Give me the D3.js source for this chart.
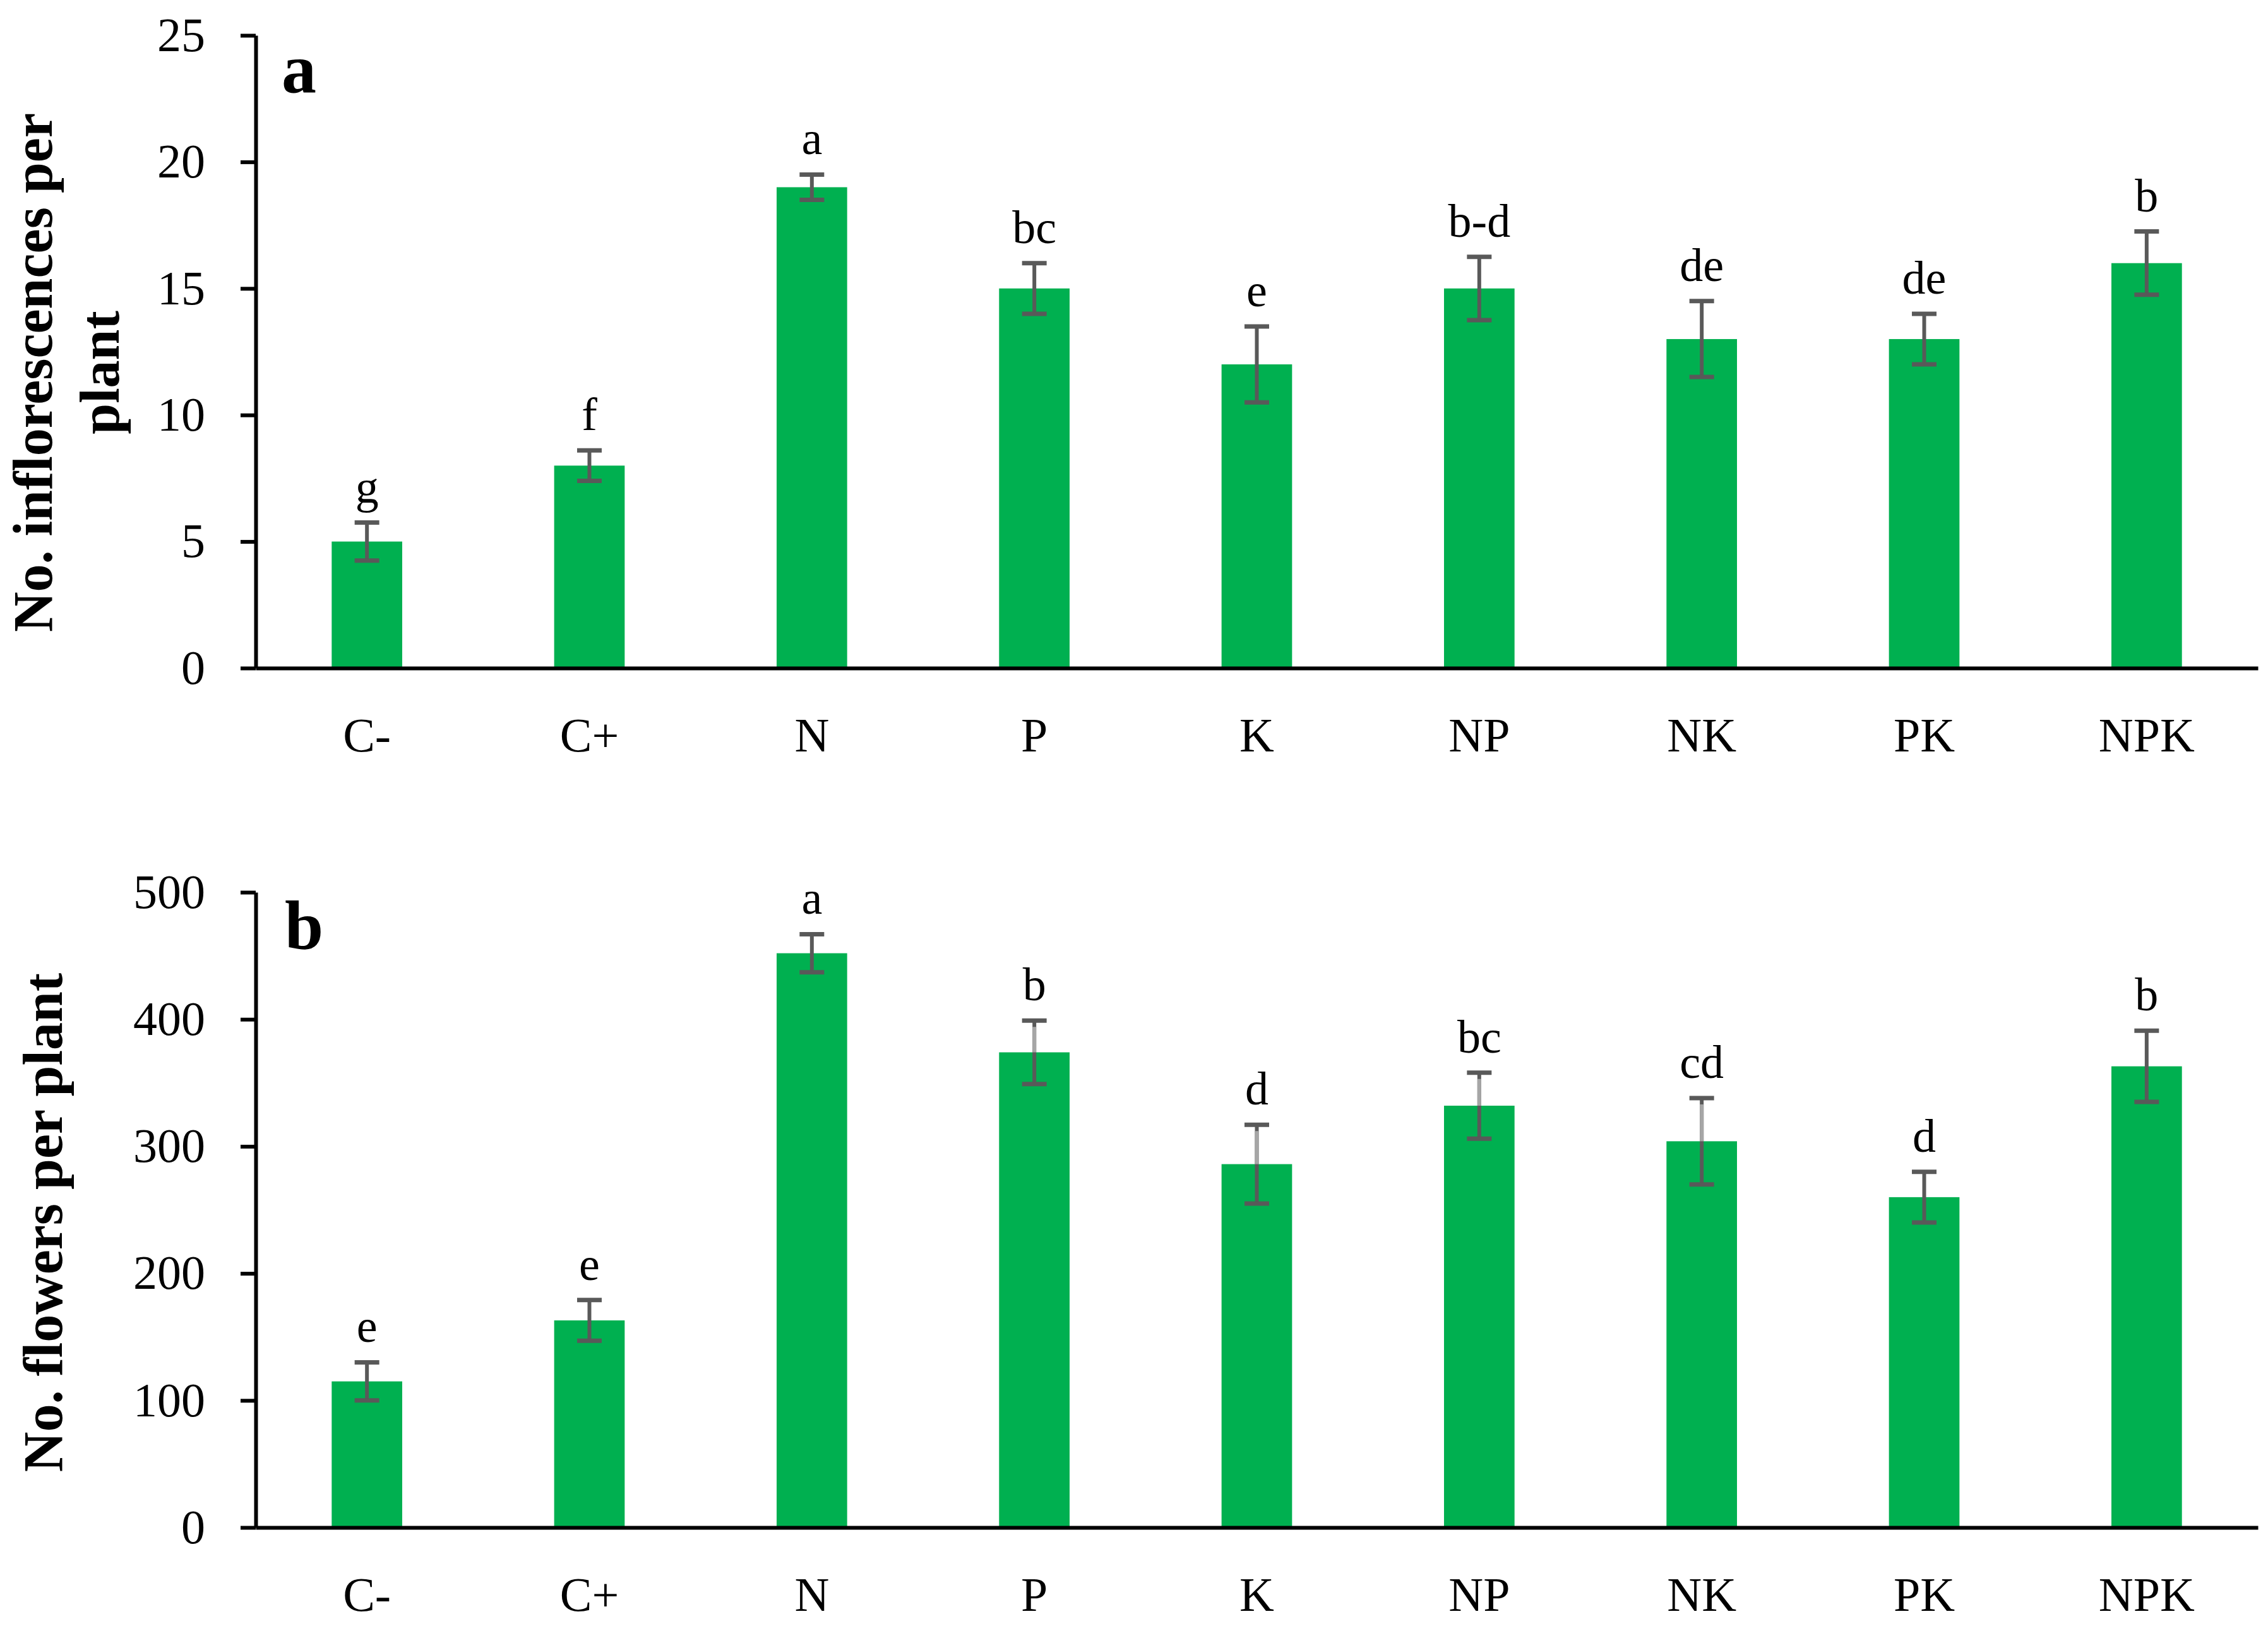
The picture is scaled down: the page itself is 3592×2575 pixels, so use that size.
<!DOCTYPE html>
<html>
<head>
<meta charset="utf-8">
<script src="https://cdn.jsdelivr.net/npm/d3@7"></script>
<style>
  html, body { margin: 0; padding: 0; background: #fff; }
  text { font-family: "Palatino Linotype", "Book Antiqua", Palatino, "Liberation Serif", serif; }
</style>
</head>
<body>
<svg id="chart"></svg>
<script>
// data
const categories = ['C-', 'C+', 'N', 'P', 'K', 'NP', 'NK', 'PK', 'NPK'];

const inflorescences = [5, 8, 19, 15, 12, 15, 13, 13, 16];
const inflorescencesErr = [0.75, 0.6, 0.5, 1.0, 1.5, 1.25, 1.5, 1.0, 1.25];
const inflorescencesLetters = ['g', 'f', 'a', 'bc', 'e', 'b-d', 'de', 'de', 'b'];
const inflorescencesTicks = [0, 5, 10, 15, 20, 25];

const flowers = [115, 163, 452, 374, 286, 332, 304, 260, 363];
const flowersErr = [15, 16, 15, 25, 31, 26, 34, 20, 28];
const flowersLetters = ['e', 'e', 'a', 'b', 'd', 'bc', 'cd', 'd', 'b'];
const flowersTicks = [0, 100, 200, 300, 400, 500];
// these whiskers come out lighter above the bar in the original
const flowersFaded = ['P', 'K', 'NP', 'NK'];

const W = 3592, H = 2575;
const LEFT = 405, RIGHT = 3576;
const GREEN = '#00B050', ERR = '#595959';
const FONT = '"Palatino Linotype", "Book Antiqua", Palatino, "Liberation Serif", serif';

const svg = d3.select('#chart').attr('width', W).attr('height', H);

const x = d3.scaleBand()
    .domain(categories)
    .range([LEFT, RIGHT])
    .paddingInner(0.683)
    .paddingOuter(0.683 / 2);

function panel(opts) {
    const rows = categories.map((c, i) => ({
        cat: c, v: opts.values[i], e: opts.errs[i], lab: opts.letters[i]
    }));
    const y = d3.scaleLinear().domain(opts.domain).range([opts.bottom, opts.top]);
    const g = svg.append('g');

    // bars
    g.selectAll('rect.bar')
        .data(rows)
        .join('rect')
        .attr('class', 'bar')
        .attr('x', d => x(d.cat))
        .attr('width', x.bandwidth())
        .attr('y', d => y(d.v))
        .attr('height', d => y(0) - y(d.v))
        .attr('fill', GREEN);

    // error bars
    const cx = d => x(d.cat) + x.bandwidth() / 2;
    const eb = g.selectAll('g.err').data(rows).join('g').attr('class', 'err');
    eb.append('line')
        .attr('x1', cx).attr('x2', cx)
        .attr('y1', d => y(d.v + d.e)).attr('y2', d => y(d.v - d.e))
        .attr('stroke', ERR).attr('stroke-width', 6);
    eb.filter(d => (opts.faded || []).includes(d.cat))
        .append('line')
        .attr('x1', cx).attr('x2', cx)
        .attr('y1', d => y(d.v + d.e) + 10).attr('y2', d => y(d.v))
        .attr('stroke', '#A6A6A6').attr('stroke-width', 6);
    [d => d.v + d.e, d => d.v - d.e].forEach(f => {
        eb.append('line')
            .attr('x1', d => cx(d) - 19.5).attr('x2', d => cx(d) + 19.5)
            .attr('y1', d => y(f(d))).attr('y2', d => y(f(d)))
            .attr('stroke', ERR).attr('stroke-width', 7);
    });

    // significance letters
    g.selectAll('text.sig')
        .data(rows)
        .join('text')
        .attr('class', 'sig')
        .attr('x', cx)
        .attr('y', d => y(d.v + d.e) - 32)
        .attr('text-anchor', 'middle')
        .style('font-size', '74px')
        .text(d => d.lab);

    // y axis
    const ya = g.append('g')
        .attr('transform', `translate(${LEFT},0)`)
        .call(d3.axisLeft(y).tickValues(opts.ticks).tickSize(24).tickSizeOuter(0).tickPadding(56));
    ya.select('.domain').attr('stroke', '#000').attr('stroke-width', 6);
    ya.selectAll('.tick line').attr('stroke', '#000').attr('stroke-width', 6);
    ya.selectAll('.tick text')
        .attr('fill', '#000')
        .style('font-size', '76px')
        .style('font-family', FONT);

    // x axis
    const xa = g.append('g')
        .attr('transform', `translate(0,${opts.bottom})`)
        .call(d3.axisBottom(x).tickSize(0).tickPadding(78));
    xa.select('.domain').attr('stroke', '#000').attr('stroke-width', 6);
    xa.selectAll('.tick text')
        .attr('fill', '#000')
        .style('font-size', '76px')
        .style('font-family', FONT);

    // y title
    opts.title.forEach((t, i) => {
        g.append('text')
            .attr('transform', `translate(${opts.titleX[i]},${opts.titleY}) rotate(-90)`)
            .attr('text-anchor', 'middle')
            .style('font-size', '88px')
            .style('font-weight', 'bold')
            .text(t);
    });

    // panel letter
    g.append('text')
        .attr('x', opts.tagX)
        .attr('y', opts.top + 90)
        .style('font-size', '110px')
        .style('font-weight', 'bold')
        .text(opts.tag);
}

panel({
    values: inflorescences, errs: inflorescencesErr, letters: inflorescencesLetters,
    ticks: inflorescencesTicks, domain: [0, 25], top: 56, bottom: 1058,
    title: ['No. inflorescences per', 'plant'], titleX: [82, 188], titleY: 590,
    tag: 'a', tagX: 446
});

panel({
    values: flowers, errs: flowersErr, letters: flowersLetters, faded: flowersFaded,
    ticks: flowersTicks, domain: [0, 500], top: 1413, bottom: 2419,
    title: ['No. flowers per plant'], titleX: [98], titleY: 1936,
    tag: 'b', tagX: 451
});
</script>
</body>
</html>
